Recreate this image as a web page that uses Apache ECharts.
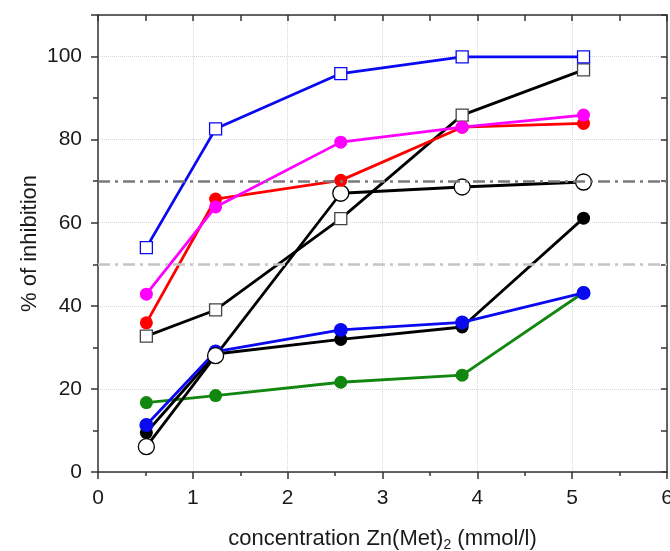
<!DOCTYPE html>
<html>
<head>
<meta charset="utf-8">
<script src="https://cdn.jsdelivr.net/npm/echarts@6/dist/echarts.min.js"></script>
<style>
  html, body { margin: 0; padding: 0; background: #fff; }
  #chart { width: 670px; height: 551px; }
</style>
</head>
<body>
<div id="chart"></div>
<script>
// concentration Zn(Met)2, mmol/l
var conc = [0.51, 1.24, 2.56, 3.84, 5.12];

// % of inhibition, one array per curve
var blueSquares    = [54, 82.6, 95.9, 99.9, 99.9];
var blackSquares   = [32.7, 39, 61, 85.9, 96.8];
var magentaDots    = [42.8, 63.8, 79.4, 83, 85.9];
var redDots        = [35.9, 65.7, 70.2, 83, 83.9];
var blackCircles   = [6.1, 28, 67.1, 68.6, 69.8];
var blackDots      = [9.5, 28.4, 31.9, 34.9, 61.1];
var blueDots       = [11.3, 29, 34.2, 36, 43.1];
var greenDots      = [16.7, 18.4, 21.6, 23.3, 43.2];

// dash-dot reference levels
var refHigh = 70;
var refLow = 50;

var fontFam = '"Liberation Sans", Arial, sans-serif';

function pairs(ys) {
    var out = [];
    for (var i = 0; i < conc.length; i++) {
        out.push([conc[i], ys[i]]);
    }
    return out;
}

function curve(name, ys, color, symbol, size, fill) {
    return {
        name: name,
        type: 'line',
        data: pairs(ys),
        symbol: symbol,
        symbolSize: size,
        showSymbol: true,
        lineStyle: { color: color, width: 2.8 },
        itemStyle: {
            color: fill ? color : '#fff',
            borderColor: color,
            borderWidth: fill ? 0 : 1.3
        },
        z: 3
    };
}

var chart = echarts.init(document.getElementById('chart'));

var series = [
    curve('green', greenDots, '#12870f', 'circle', 13, true),
    curve('black dots', blackDots, '#000', 'circle', 13, true),
    curve('blue dots', blueDots, '#0a0af0', 'circle', 14, true),
    curve('black circles', blackCircles, '#000', 'circle', 16, false),
    curve('black squares', blackSquares, '#000', 'rect', 12, false),
    curve('red', redDots, '#f00', 'circle', 13, true),
    curve('magenta', magentaDots, '#ff00ff', 'circle', 13, true),
    curve('blue squares', blueSquares, '#0a0af0', 'rect', 12, false)
];
series[4].itemStyle.borderColor = '#444';

series.push({
    name: 'ref',
    type: 'line',
    data: [],
    markLine: {
        silent: true,
        symbol: ['none', 'none'],
        label: { show: false },
        data: [
            { yAxis: refHigh, lineStyle: { color: '#7a7a7a', width: 2.5, type: [12, 5, 3, 5] } },
            { yAxis: refLow, lineStyle: { color: '#c4c4c4', width: 2.5, type: [12, 5, 3, 5] } }
        ]
    },
    z: 1
});

chart.setOption({
    backgroundColor: '#fff',
    animation: false,
    grid: { left: 98, right: 3, top: 15, bottom: 79, outerBoundsMode: 'none', containLabel: false },
    xAxis: [{
        type: 'value',
        min: 0, max: 6, interval: 1,
        name: 'concentration Zn(Met){sub|2} (mmol/l)',
        nameLocation: 'middle',
        nameGap: 54,
        nameMoveOverlap: false,
        nameTextStyle: {
            fontFamily: fontFam, fontSize: 22, color: '#1a1a1a',
            rich: { sub: { fontFamily: fontFam, fontSize: 14, color: '#1a1a1a', padding: [12, 0, 0, 0] } }
        },
        axisLine: { onZero: false, lineStyle: { color: '#333', width: 1.5 } },
        axisTick: { inside: false, length: 7, lineStyle: { color: '#333', width: 1.5 } },
        minorTick: { show: true, splitNumber: 2, length: 4, lineStyle: { color: '#333', width: 1.5 } },
        axisLabel: { fontFamily: fontFam, fontSize: 21, color: '#1a1a1a', margin: 16 },
        splitLine: { show: true, lineStyle: { color: '#d8d8d8', type: 'dotted', width: 1 } }
    }, {
        type: 'value',
        position: 'top',
        min: 0, max: 6, interval: 1,
        axisLine: { show: true, onZero: false, lineStyle: { color: '#333', width: 1.5 } },
        axisTick: { show: true, inside: true, length: 6, lineStyle: { color: '#333', width: 1.5 } },
        minorTick: { show: true, splitNumber: 2, length: 6, lineStyle: { color: '#333', width: 1.5 } },
        axisLabel: { show: false },
        splitLine: { show: false }
    }],
    yAxis: [{
        type: 'value',
        min: 0, max: 110, interval: 20,
        name: '% of inhibition',
        nameLocation: 'middle',
        nameGap: 57,
        nameMoveOverlap: false,
        nameTextStyle: { fontFamily: fontFam, fontSize: 22, color: '#1a1a1a' },
        axisLine: { show: true, onZero: false, lineStyle: { color: '#333', width: 1.5 } },
        axisTick: { show: true, inside: false, length: 7, lineStyle: { color: '#333', width: 1.5 } },
        minorTick: { show: true, splitNumber: 2, length: 5, lineStyle: { color: '#333', width: 1.5 } },
        axisLabel: {
            fontFamily: fontFam, fontSize: 21, color: '#1a1a1a', margin: 16,
            formatter: function (v) { return v > 100 ? '' : v; }
        },
        splitLine: { show: true, lineStyle: { color: '#d8d8d8', type: 'dotted', width: 1 } }
    }, {
        type: 'value',
        position: 'right',
        min: 0, max: 110, interval: 20,
        axisLine: { show: true, onZero: false, lineStyle: { color: '#333', width: 1.5 } },
        axisTick: { show: true, inside: true, length: 6, lineStyle: { color: '#333', width: 1.5 } },
        minorTick: { show: true, splitNumber: 2, length: 6, lineStyle: { color: '#333', width: 1.5 } },
        axisLabel: { show: false },
        splitLine: { show: false }
    }],
    series: series
});
</script>
</body>
</html>
